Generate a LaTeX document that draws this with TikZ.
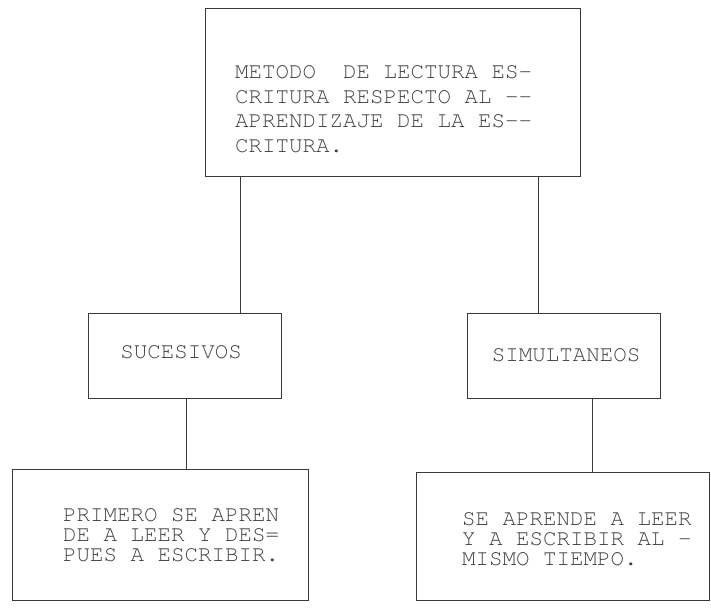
\documentclass[tikz,border=0pt]{standalone}
\usepackage[T1]{fontenc}
\definecolor{linec}{HTML}{3A3A3A}
\definecolor{textc}{HTML}{404040}
\newcommand{\cour}{\fontencoding{T1}\fontfamily{pcr}\selectfont}
\begin{document}
\begin{tikzpicture}[x=1pt,y=-1pt,
  box/.style={draw=linec, line width=1.1pt, inner sep=0pt, anchor=north west},
  conn/.style={draw=linec, line width=1pt},
  txt/.style={text=textc, inner sep=0pt, align=left, anchor=north west},
  bigtxt/.style={txt, font={\cour\fontsize{22.5pt}{24.5pt}\selectfont}},
  smalltxt/.style={txt, font={\cour\fontsize{22.5pt}{20pt}\selectfont}},
  midtxt/.style={text=textc, inner sep=0pt, font={\cour\fontsize{22.5pt}{24pt}\selectfont}}]
\useasboundingbox (0,0) rectangle (711,607);
% boxes
\node[box, minimum width=375pt, minimum height=168pt] (top) at (205,8) {};
\node[box, minimum width=193pt, minimum height=85pt] (suc) at (88,313) {};
\node[box, minimum width=193pt, minimum height=85pt] (sim) at (467,313) {};
\node[box, minimum width=296pt, minimum height=131pt] (bl) at (12,469) {};
\node[box, minimum width=293pt, minimum height=128pt] (br) at (416,472) {};
% texts
\node[bigtxt] (toptext) at (235,65) {METODO\ \ DE LECTURA ES-\\CRITURA RESPECTO AL -{}-\\APRENDIZAJE DE LA ES-{}-\\CRITURA.};
\node[midtxt] (suctext) at (181,352) {SUCESIVOS};
\node[midtxt] (simtext) at (566,355) {SIMULTANEOS};
\node[smalltxt] (bltext) at (63,508) {PRIMERO SE APREN\\DE A LEER Y DES=\\PUES A ESCRIBIR.};
\node[smalltxt] (brtext) at (462,512) {SE APRENDE A LEER\\Y A ESCRIBIR AL -\\MISMO TIEMPO.};
% connector x positions
\coordinate (xa) at (240,0);
\coordinate (xb) at (538,0);
\coordinate (xc) at (186,0);
\coordinate (xd) at (592,0);
\draw[conn] (top.south -| xa) -- (suc.north -| xa);
\draw[conn] (top.south -| xb) -- (sim.north -| xb);
\draw[conn] (suc.south -| xc) -- (bl.north -| xc);
\draw[conn] (sim.south -| xd) -- (br.north -| xd);
\end{tikzpicture}
\end{document}
